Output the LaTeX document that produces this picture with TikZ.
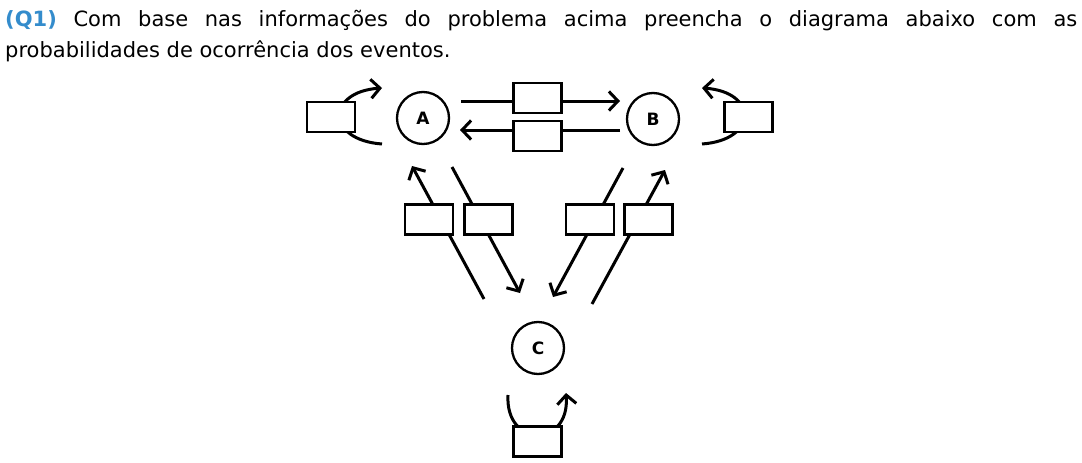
\documentclass[tikz,border=0pt]{standalone}
\usepackage{fontspec}
\setmainfont{DejaVu Sans}
\usetikzlibrary{arrows.meta,calc}
\definecolor{qblue}{RGB}{52,140,204}
\tikzset{
  state/.style={draw, circle, line width=2.3pt, minimum size=52pt, inner sep=0pt, font=\fontsize{17}{17}\selectfont\bfseries},
  pbox/.style={draw, fill=white, line width=2.3pt, minimum width=48pt, minimum height=30pt, inner sep=0pt},
  arr/.style={line width=3pt, -{Straight Barb[length=9pt,width=19pt,line width=3pt]}},
  txt/.style={anchor=base west, inner sep=0pt, font=\fontsize{21}{24}\selectfont}
}
\begin{document}
\begin{tikzpicture}[x=1pt,y=-1pt]
\path[use as bounding box] (0,0) rectangle (1082,463);
\node[txt] (l1) at (5,26) {\makebox[1072pt][s]{\textcolor{qblue}{\bfseries (Q1)} Com base nas informações do problema acima preencha o diagrama abaixo com as}};
\node[txt] (l2) at (5,57) {probabilidades de ocorrência dos eventos.};
\node[state] (A) at (423,118) {A};
\node[state] (B) at (653,119) {B};
\node[state] (C) at (538,348) {C};
% horizontal connectors
\draw[arr] ($(A)+(38,-17)$) -- ($(B)+(-33,-18)$);
\draw[arr] ($(B)+(-33,11)$) -- ($(A)+(37,12)$);
% diagonal connectors
\draw[arr] ($(C)+(-54,-49)$) -- ($(A)+(-11,48)$);
\draw[arr] ($(A)+(29,49)$) -- ($(C)+(-18,-55)$);
\draw[arr] ($(B)+(-30,49)$) -- ($(C)+(15,-51)$);
\draw[arr] ($(C)+(54,-44)$) -- ($(B)+(12,51)$);
% self loops
\draw[arr] ($(A)+(-41,26)$) .. controls ($(A)+(-97,22)$) and ($(A)+(-97,-26)$) .. ($(A)+(-41,-30)$);
\draw[arr] ($(B)+(49,25)$) .. controls ($(B)+(105,21)$) and ($(B)+(105,-27)$) .. ($(B)+(49,-31)$);
\draw[arr] ($(C)+(-30,47)$) .. controls ($(C)+(-33,100)$) and ($(C)+(32,100)$) .. ($(C)+(28,45)$);
% boxes
\node[pbox] (bA) at (331,117) {};
\node[pbox] (bB) at (748.5,117) {};
\node[pbox] (bAB) at (537.5,98) {};
\node[pbox] (bBA) at (537.5,136) {};
\node[pbox] (bAC1) at (429,219.5) {};
\node[pbox] (bAC2) at (488.5,219.5) {};
\node[pbox] (bBC1) at (590,219.5) {};
\node[pbox] (bBC2) at (648.5,219.5) {};
\node[pbox] (bC) at (537.5,441.5) {};
\end{tikzpicture}
\end{document}
